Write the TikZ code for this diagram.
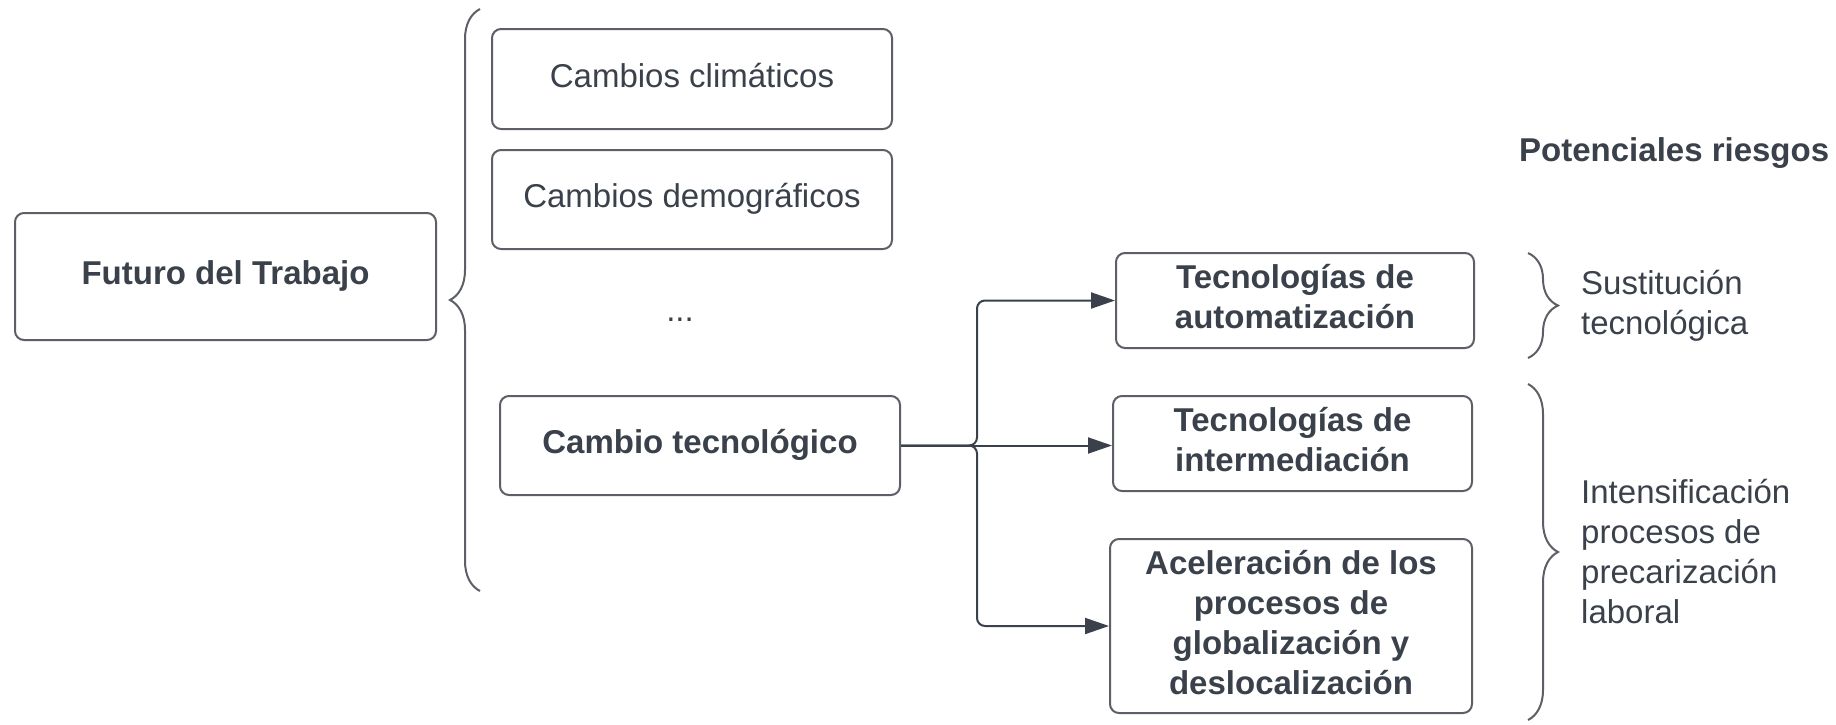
\documentclass[tikz,border=0pt]{standalone}
\usepackage{fontspec}
\setmainfont{Liberation Sans}
\usetikzlibrary{arrows.meta,decorations.pathreplacing}
\definecolor{txt}{HTML}{3A414A}
\definecolor{bord}{HTML}{5C6066}
\begin{document}
\begin{tikzpicture}[x=1pt,y=-1pt,
  box/.style={draw=bord, line width=2pt, rounded corners=9pt, align=center, text=txt, inner sep=0pt, text depth=8pt},
  bt/.style={font=\fontsize{33}{40}\selectfont\bfseries},
  rt/.style={font=\fontsize{33}{40}\selectfont},
  arr/.style={draw=txt, line width=2pt, -{Triangle[length=24pt,width=16pt]}, rounded corners=8pt},
  brc/.style={draw=bord, line width=2pt, decorate, decoration={brace, amplitude=30pt}}]
\useasboundingbox (0,0) rectangle (1836,724);

% left column
\node[box, bt, minimum width=421pt, minimum height=127pt] (fut) at (225.5,276.5) {Futuro del Trabajo};

% big brace
\coordinate (lb1) at (480,591);
\coordinate (lb2) at (480,9);
\draw[brc] (lb1) -- (lb2);

% drivers
\node[box, rt, minimum width=400pt, minimum height=100pt] (clim) at (692,79) {Cambios climáticos};
\node[box, rt, minimum width=400pt, minimum height=99pt] (demo) at (692,199.5) {Cambios demográficos};
\node[rt, text=txt] (dots) at (680,320) {...};
\node[box, bt, minimum width=400pt, minimum height=99pt] (ct) at (700,445.5) {Cambio tecnológico};

% technologies
\node[box, bt, minimum width=358pt, minimum height=95pt] (auto) at (1295,300.5) {Tecnologías de\\automatización};
\node[box, bt, minimum width=359pt, minimum height=95pt] (inter) at (1292.5,443.5) {Tecnologías de\\intermediación};
\node[box, bt, minimum width=362pt, minimum height=174pt] (acel) at (1291,626) {Aceleración de los\\procesos de\\globalización y\\deslocalización};

% connectors
\coordinate (j) at (977,445.5);
\draw[arr] (ct.east) -- (j) |- (auto.west);
\draw[arr] (ct.east) -- (ct.east -| inter.west);
\draw[arr] (ct.east) -- (j) |- (acel.west);

% risks
\node[bt, text=txt, anchor=west, inner sep=0pt] (pr) at (1519,153.5) {Potenciales riesgos};
\coordinate (rb1) at (1528,253);
\coordinate (rb2) at (1528,358);
\draw[brc] (rb1) -- (rb2);
\coordinate (rb3) at (1528,384);
\coordinate (rb4) at (1528,720);
\draw[brc] (rb3) -- (rb4);
\node[rt, text=txt, anchor=west, align=left, inner sep=0pt] (sus) at (1581,305.5) {Sustitución\\tecnológica};
\node[rt, text=txt, anchor=west, align=left, inner sep=0pt] (int) at (1581,551) {Intensificación\\procesos de\\precarización\\laboral};
\end{tikzpicture}
\end{document}
